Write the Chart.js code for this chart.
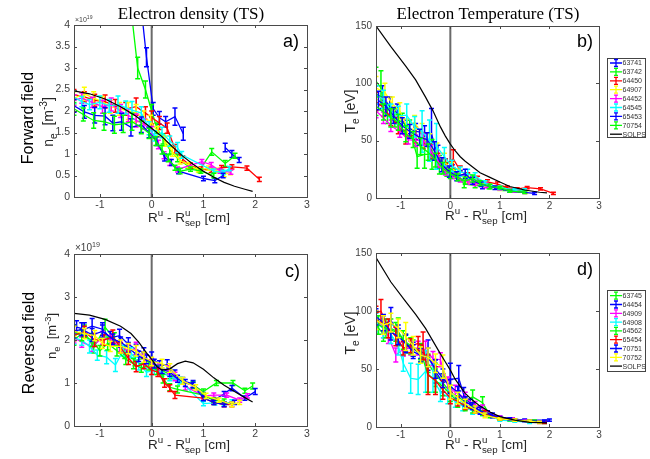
<!DOCTYPE html>
<html lang="en">
<head>
<meta charset="UTF-8">
<title>Electron density / temperature (TS)</title>
<script src="https://cdn.jsdelivr.net/npm/chart.js"></script>
<style>
  body { margin: 0; background: #fff; }
  #fig { position: relative; width: 650px; height: 459px; }
  #fig canvas { position: absolute; left: 0; top: 0; }
</style>
</head>
<body>
<div id="fig">
  <canvas id="painelA" width="650" height="459"></canvas>
  <canvas id="painelB" width="650" height="459"></canvas>
  <canvas id="painelC" width="650" height="459"></canvas>
  <canvas id="painelD" width="650" height="459"></canvas>
</div>

<script>
// ---- ticks ----
const xTicks = [-1, 0, 1, 2, 3];
const neTicksA = [0, 0.5, 1, 1.5, 2, 2.5, 3, 3.5, 4];
const neTicksC = [0, 1, 2, 3, 4];
const teTicks = [0, 50, 100, 150];

// ---- shots ----
const shotsForward = ['63741', '63742', '64450', '64907', '64452', '64545', '65453', '70754'];
const shotsReversed = ['63745', '64454', '64909', '64908', '64562', '65454', '70751', '70752'];
const coresForward = ['#0000ff', '#00ff00', '#ff0000', '#ffff00', '#ff00ff', '#00ffff', '#0000ff', '#00ff00'];
const coresReversed = ['#00ff00', '#0000ff', '#ff00ff', '#00ffff', '#00ff00', '#ff0000', '#0000ff', '#ffff00'];

// ---- a) n_e forward field  [x (cm), n_e (1e19 m^-3), erro] ----
const a63741 = [[-0.22,4.6,0.3],[-0.1,3.25,0.22],[0.03,2.05,0.15],[0.15,1.84,0.15],[0.27,1.75,0.12],[0.45,1.87,0.2],[0.61,1.47,0.15],[1.0,null,0],[1.42,1.15,0.1],[1.55,1.0,0.08],[1.69,0.86,0.06]];
const a63742 = [[-0.42,4.6,0.3],[-0.27,3.0,0.25],[-0.12,2.5,0.2],[0.0,2.0,0.15],[0.1,1.6,0.12],[0.22,1.35,0.12],[0.35,1.1,0.1],[0.5,0.9,0.08],[0.7,0.72,0.06],[0.92,0.62,0.05],[1.16,1.05,0.08],[1.42,0.78,0.07],[1.61,0.96,0.06]];
const a64450 = [[-1.5,2.38,0.12],[-1.3,2.33,0.12],[-1.1,2.25,0.14],[-0.9,2.22,0.15],[-0.7,2.12,0.15],[-0.5,2.05,0.15],[-0.3,2.1,0.2],[-0.12,1.95,0.15],[0.0,1.85,0.15],[0.15,1.72,0.15],[0.3,1.6,0.12],[0.45,1.12,0.1],[0.6,0.88,0.08],[0.75,0.73,0.06],[0.95,0.65,0.05],[1.15,0.62,0.05],[1.35,0.68,0.05],[1.55,0.7,0.05],[1.84,0.67,0.05],[2.08,0.41,0.05]];
const a64907 = [[-1.5,2.3,0.15],[-1.3,2.4,0.15],[-1.12,2.3,0.15],[-0.95,2.22,0.12],[-0.8,2.1,0.15],[-0.62,2.05,0.15],[-0.45,2.0,0.2],[-0.3,1.95,0.2],[-0.15,1.85,0.15],[-0.02,1.75,0.15],[0.12,1.52,0.12],[0.26,1.3,0.12],[0.4,1.05,0.1],[0.55,0.85,0.08],[0.72,0.74,0.06],[0.9,0.63,0.05],[1.1,0.67,0.05],[1.25,0.62,0.05],[1.4,0.52,0.05],[1.52,0.57,0.05]];
const a64452 = [[-1.5,2.25,0.12],[-1.35,2.3,0.12],[-1.15,2.2,0.12],[-0.95,2.1,0.15],[-0.78,2.15,0.15],[-0.6,2.0,0.15],[-0.45,1.9,0.15],[-0.3,1.78,0.15],[-0.15,1.7,0.12],[0.0,1.52,0.12],[0.13,1.22,0.1],[0.24,0.97,0.08],[0.35,0.8,0.07],[0.5,0.64,0.06],[0.97,0.82,0.05],[1.15,0.75,0.05],[1.32,0.6,0.05],[1.53,0.58,0.05]];
const a64545 = [[-1.5,2.32,0.15],[-1.35,2.22,0.12],[-1.2,2.15,0.12],[-1.0,2.2,0.15],[-0.82,2.12,0.15],[-0.65,2.15,0.2],[-0.5,2.08,0.15],[-0.38,2.02,0.2],[-0.2,1.95,0.15],[-0.05,1.6,0.15],[0.06,1.42,0.12],[0.2,1.5,0.12],[0.35,1.3,0.12],[0.5,1.15,0.12],[0.58,0.98,0.08],[1.2,0.6,0.05],[1.38,0.57,0.05],[1.5,0.66,0.05]];
const a65453 = [[-1.5,2.12,0.15],[-1.3,1.98,0.15],[-1.1,1.9,0.18],[-0.9,1.88,0.2],[-0.75,1.72,0.18],[-0.58,1.75,0.2],[-0.4,1.62,0.2],[-0.2,1.68,0.18],[-0.05,1.5,0.12],[0.1,1.3,0.1],[0.25,0.92,0.08],[0.38,0.8,0.07],[0.52,0.6,0.06],[1.0,0.43,0.05],[1.22,0.38,0.05],[1.38,0.5,0.05]];
const a70754 = [[-1.5,2.05,0.15],[-1.32,1.92,0.15],[-1.12,1.78,0.18],[-0.92,1.75,0.2],[-0.72,1.68,0.2],[-0.55,1.7,0.2],[-0.38,1.75,0.2],[-0.2,1.62,0.15],[-0.05,1.48,0.12],[0.08,1.3,0.1],[0.2,1.1,0.1],[0.32,0.9,0.08],[0.45,0.68,0.06],[0.55,0.6,0.06],[0.75,0.65,0.05],[0.95,0.6,0.05],[1.2,0.5,0.05]];
const aSolps = [[-1.5,2.47],[-1.2,2.4],[-0.9,2.28],[-0.6,2.1],[-0.3,1.88],[0,1.6],[0.2,1.4],[0.4,1.17],[0.6,0.95],[0.8,0.76],[1.0,0.6],[1.2,0.46],[1.4,0.34],[1.6,0.25],[1.8,0.18],[1.95,0.13]];

// ---- b) T_e forward field  [x (cm), T_e (eV), erro] ----
const b63741 = [[-1.5,90,8],[-1.37,88,10],[-1.22,80,8],[-1.07,74,8],[-0.88,62,6],[-0.7,58,7],[-0.52,57,6],[-0.38,56,22],[-0.25,36,10],[-0.1,28,6],[0.04,24,5],[0.2,20,4],[0.35,18,3],[0.5,15,3],[0.65,10,2]];
const b63742 = [[-1.5,102,12],[-1.4,96,15],[-1.27,73,8],[-1.12,70,8],[-0.97,66,8],[-0.82,60,8],[-0.67,36,10],[-0.52,38,12],[-0.37,38,13],[-0.22,29,8],[-0.07,25,6],[0.1,21,4],[0.28,12,3],[0.5,11,2],[0.78,10,2],[1.1,8,1.5],[1.4,6,1]];
const b64450 = [[-1.5,84,8],[-1.35,79,8],[-1.2,70,7],[-1.05,63,7],[-0.9,53,6],[-0.7,55,7],[-0.55,50,7],[-0.4,41,6],[-0.25,33,6],[-0.1,29,5],[0.06,34,8],[0.2,24,4],[0.35,19,3],[0.55,16,3],[0.75,14,2],[0.95,12,2],[1.15,9,1.5],[1.35,8,1],[1.55,9,1],[1.82,8,1],[2.08,4,1]];
const b64907 = [[-1.5,96,10],[-1.32,92,8],[-1.17,82,6],[-1.02,76,7],[-0.87,62,7],[-0.72,66,6],[-0.57,55,10],[-0.42,46,10],[-0.27,38,10],[-0.12,31,8],[0.03,26,5],[0.18,21,4],[0.35,16,3],[0.5,15,3],[0.7,12,2],[1.0,8,1.5],[1.3,6,1],[1.52,5,1]];
const b64452 = [[-1.5,76,6],[-1.35,70,5],[-1.2,63,5],[-1.02,58,5],[-0.85,51,4],[-0.7,50,5],[-0.55,51,5],[-0.4,41,5],[-0.25,32,5],[-0.1,24,4],[0.05,20,3],[0.2,17,3],[0.35,14,2],[0.5,13,2],[0.72,11,2],[1.0,8,1],[1.3,6,1],[1.5,5,1]];
const b64545 = [[-1.5,90,8],[-1.35,86,8],[-1.2,76,6],[-1.05,72,8],[-0.88,72,10],[-0.72,62,9],[-0.57,58,18],[-0.42,50,18],[-0.28,45,20],[-0.12,36,8],[0.03,28,5],[0.2,23,4],[0.35,21,4],[0.5,19,3],[0.7,13,2],[1.0,9,1.5],[1.3,7,1],[1.5,7,1]];
const b65453 = [[-1.45,85,8],[-1.3,80,8],[-1.15,72,7],[-0.97,63,7],[-0.82,58,6],[-0.62,53,7],[-0.47,51,6],[-0.32,41,8],[-0.17,29,6],[-0.02,23,5],[0.13,19,4],[0.3,21,4],[0.45,15,3],[0.62,12,2],[0.9,9,1.5],[1.2,6,1],[1.7,4,1]];
const b70754 = [[-1.5,80,8],[-1.35,75,7],[-1.2,70,8],[-1.05,66,7],[-0.9,56,7],[-0.75,51,7],[-0.6,45,7],[-0.45,40,7],[-0.3,33,6],[-0.15,26,5],[0.0,21,4],[0.15,18,3],[0.3,15,3],[0.45,17,3],[0.6,13,2],[0.8,10,2],[1.0,9,1],[1.2,6,1],[1.5,5,1]];
const bSolps = [[-1.5,150],[-1.2,132],[-0.9,115],[-0.7,103],[-0.5,88],[-0.35,76],[-0.2,62],[-0.1,54],[0,47],[0.1,41],[0.2,36],[0.3,32],[0.45,27],[0.6,22],[0.8,18],[1.0,14],[1.2,10],[1.5,7],[1.8,5],[1.95,4.5]];

// ---- c) n_e reversed field ----
const c63745 = [[-1.5,2.0,0.12],[-1.3,2.2,0.15],[-1.12,1.82,0.12],[-0.9,2.3,0.18],[-0.72,2.02,0.15],[-0.52,1.72,0.15],[-0.32,1.52,0.12],[-0.15,1.58,0.12],[0.0,1.42,0.1],[0.15,1.32,0.1],[0.35,1.2,0.1],[0.55,1.05,0.08],[0.8,0.95,0.08],[1.0,0.8,0.06],[1.25,1.0,0.06],[1.57,1.0,0.06],[1.8,0.82,0.06],[1.95,0.93,0.07]];
const c64454 = [[-1.45,2.3,0.15],[-1.3,2.25,0.15],[-1.15,2.32,0.18],[-0.95,2.25,0.15],[-0.8,2.05,0.15],[-0.62,2.1,0.15],[-0.45,1.9,0.15],[-0.3,1.78,0.12],[-0.15,1.7,0.12],[0,1.6,0.12],[0.15,1.42,0.1],[0.3,1.42,0.12],[0.45,1.2,0.1],[0.6,1.05,0.08],[0.8,0.98,0.08],[1.0,0.72,0.06],[1.2,0.6,0.05],[1.4,0.75,0.05],[1.55,0.88,0.06],[1.8,0.65,0.05],[2.0,0.8,0.07]];
const c64909 = [[-1.5,2.05,0.12],[-1.35,1.95,0.12],[-1.15,1.85,0.12],[-0.95,2.05,0.15],[-0.78,2.0,0.12],[-0.62,1.85,0.12],[-0.45,1.75,0.15],[-0.3,1.8,0.15],[-0.15,1.55,0.12],[0,1.45,0.1],[0.15,1.35,0.1],[0.32,1.3,0.1],[0.45,1.15,0.1],[0.65,0.92,0.08],[1.0,0.7,0.06],[1.2,0.72,0.05],[1.45,0.72,0.05],[1.7,0.6,0.05],[1.85,0.7,0.05]];
const c64908 = [[-1.5,2.05,0.15],[-1.35,2.0,0.12],[-1.2,1.85,0.15],[-1.05,1.65,0.12],[-0.87,1.6,0.15],[-0.7,1.42,0.15],[-0.55,1.75,0.12],[-0.4,1.7,0.12],[-0.25,1.45,0.15],[-0.1,1.25,0.1],[0.05,1.3,0.1],[0.2,1.25,0.1],[0.35,1.15,0.1],[0.55,1.05,0.08],[1.0,0.52,0.05],[1.22,0.54,0.05],[1.4,0.52,0.05],[1.55,0.56,0.05]];
const c64562 = [[-1.5,2.2,0.15],[-1.35,2.1,0.12],[-1.15,2.0,0.15],[-1.0,1.75,0.12],[-0.85,1.92,0.15],[-0.67,1.75,0.12],[-0.5,1.55,0.12],[-0.35,1.45,0.12],[-0.2,1.35,0.1],[-0.05,1.4,0.1],[0.1,1.3,0.1],[0.22,1.1,0.1],[0.35,0.9,0.08],[0.5,0.85,0.08],[1.0,0.72,0.05],[1.2,0.6,0.05],[1.4,0.58,0.05]];
const c65454 = [[-1.5,2.1,0.12],[-1.3,2.2,0.12],[-1.1,2.0,0.15],[-0.92,2.0,0.12],[-0.75,2.08,0.15],[-0.6,1.82,0.12],[-0.45,1.58,0.15],[-0.3,1.38,0.12],[-0.15,1.45,0.12],[0,1.3,0.1],[0.12,1.25,0.1],[0.25,1.0,0.1],[0.35,0.88,0.08],[0.45,0.72,0.08],[1.0,0.65,0.05],[1.2,0.55,0.05],[1.4,0.5,0.05],[1.55,0.5,0.05]];
const c70751 = [[-1.5,2.2,0.15],[-1.35,2.25,0.15],[-1.15,2.12,0.15],[-0.95,2.2,0.15],[-0.75,2.02,0.12],[-0.6,1.95,0.12],[-0.45,1.82,0.12],[-0.25,1.62,0.12],[-0.1,1.55,0.1],[0.05,1.45,0.1],[0.2,1.32,0.1],[0.35,1.25,0.1],[0.5,1.1,0.08],[0.65,1.0,0.08],[0.8,0.95,0.06],[1.0,0.65,0.06],[1.2,0.55,0.05],[1.4,0.5,0.05],[1.6,0.55,0.05]];
const c70752 = [[-1.5,2.2,0.12],[-1.3,2.15,0.12],[-1.1,2.1,0.12],[-0.95,1.92,0.12],[-0.8,1.85,0.12],[-0.6,1.85,0.15],[-0.45,1.8,0.12],[-0.3,1.75,0.12],[-0.15,1.6,0.12],[0,1.5,0.1],[0.2,1.45,0.1],[0.35,1.35,0.1],[0.6,1.05,0.08],[0.85,0.9,0.06],[1.05,0.7,0.06],[1.3,0.6,0.05],[1.55,0.5,0.05],[1.7,0.55,0.05]];
const cSolps = [[-1.5,2.62],[-1.2,2.58],[-0.9,2.48],[-0.6,2.32],[-0.4,2.15],[-0.25,1.95],[-0.1,1.7],[0,1.55],[0.1,1.38],[0.2,1.3],[0.35,1.33],[0.5,1.45],[0.65,1.51],[0.8,1.47],[1.0,1.32],[1.2,1.12],[1.4,0.95],[1.6,0.8],[1.8,0.66],[1.95,0.56]];

// ---- d) T_e reversed field ----
const d63745 = [[-1.5,88,8],[-1.35,80,6],[-1.2,85,8],[-1.05,82,12],[-0.9,72,8],[-0.75,68,7],[-0.6,62,6],[-0.45,55,8],[-0.3,45,10],[-0.15,38,8],[0,30,6],[0.15,26,5],[0.3,22,4],[0.45,26,6],[0.65,21,5],[0.8,10,2],[1.2,6,1],[1.5,5,1],[1.9,4,1]];
const d64454 = [[-1.5,92,8],[-1.35,88,8],[-1.2,92,11],[-1.05,80,8],[-0.9,72,8],[-0.75,67,6],[-0.6,65,6],[-0.45,62,13],[-0.3,48,10],[-0.15,38,8],[0,41,14],[0.17,42,11],[0.27,28,6],[0.4,20,4],[0.55,15,3],[0.75,12,2],[1.0,8,1.5],[1.25,7,1],[1.5,6,1],[2.0,6,1]];
const d64909 = [[-1.5,92,8],[-1.35,85,8],[-1.25,78,6],[-1.1,62,6],[-0.95,67,6],[-0.8,68,6],[-0.65,68,6],[-0.5,66,8],[-0.35,59,6],[-0.2,58,6],[-0.05,35,8],[0.1,30,6],[0.3,25,5],[0.5,19,3],[0.65,16,3],[1.0,8,1.5],[1.25,7,1],[1.5,5,1],[1.8,4,1]];
const d64908 = [[-1.5,90,8],[-1.35,85,8],[-1.2,80,8],[-1.05,70,8],[-0.95,55,7],[-0.8,42,13],[-0.65,41,13],[-0.5,48,18],[-0.35,42,12],[-0.2,30,8],[-0.05,26,6],[0.1,22,5],[0.25,18,4],[0.45,14,3],[0.65,12,2],[1.0,6,1],[1.3,5,1],[1.6,4,1]];
const d64562 = [[-1.45,88,8],[-1.3,85,8],[-1.1,82,8],[-0.95,75,8],[-0.8,70,7],[-0.6,65,7],[-0.45,45,15],[-0.3,40,10],[-0.15,35,8],[0,28,6],[0.15,22,5],[0.3,18,4],[0.45,15,3],[0.65,12,2],[1.0,7,1],[1.3,6,1],[1.7,5,1]];
const d65454 = [[-1.5,98,6],[-1.4,100,10],[-1.25,85,8],[-1.1,78,8],[-0.95,68,6],[-0.8,70,6],[-0.65,72,6],[-0.55,70,12],[-0.45,45,17],[-0.3,40,12],[-0.15,32,8],[0,25,5],[0.15,22,4],[0.3,18,3],[0.5,14,2],[0.7,12,2],[1.0,7,1],[1.3,6,1],[1.6,5,1],[1.9,4,1]];
const d70751 = [[-1.5,95,7],[-1.35,90,7],[-1.2,82,7],[-1.05,78,7],[-0.9,72,7],[-0.75,65,6],[-0.6,62,6],[-0.45,60,8],[-0.3,50,8],[-0.15,42,8],[0,35,6],[0.15,30,5],[0.3,22,4],[0.45,18,3],[0.6,14,3],[0.85,10,2],[1.2,7,1],[1.6,5,1],[1.9,5,1]];
const d70752 = [[-1.5,92,8],[-1.35,88,8],[-1.2,90,8],[-1.05,85,8],[-0.9,78,12],[-0.75,70,8],[-0.6,62,7],[-0.45,60,8],[-0.3,55,8],[-0.15,52,10],[0,30,6],[0.15,25,5],[0.3,20,4],[0.5,15,3],[0.7,10,2],[1.0,7,1],[1.3,6,1],[1.6,5,1],[1.8,4,1]];
const dSolps = [[-1.5,146],[-1.2,125],[-0.9,108],[-0.7,97],[-0.5,85],[-0.35,74],[-0.2,63],[-0.1,56],[0,49],[0.1,41],[0.2,35],[0.3,29],[0.45,23],[0.6,18],[0.8,13],[1.0,9],[1.3,6],[1.6,4],[1.95,3.5]];

const SANS = '"Liberation Sans", Arial, Helvetica, sans-serif';
const SERIF = '"Liberation Serif", "Times New Roman", serif';

// texto com sub/sobrescrito: partes [texto, tipo] tipo 0 normal, 1 sup, -1 sub, 2 sup sem avancar
function textoRico(ctx, t) {
  const fam = t.serif ? SERIF : SANS;
  const tam = k => (k === 0 ? t.size : t.size * 0.72);
  const desl = k => (k === 0 ? 0 : (k < 0 ? t.size * 0.32 : -t.size * 0.42));
  let w = 0, guardado = 0;
  const pos = [];
  t.parts.forEach(([s, k]) => {
    ctx.font = tam(k) + 'px ' + fam;
    const pw = ctx.measureText(s).width;
    pos.push(w);
    if (k === 2) { guardado = pw; } else { w += Math.max(pw, guardado); guardado = 0; }
  });
  ctx.save();
  ctx.translate(t.x, t.y);
  if (t.rot) ctx.rotate(-Math.PI / 2);
  ctx.fillStyle = t.color || '#262626';
  ctx.textAlign = 'left';
  ctx.textBaseline = 'alphabetic';
  const x0 = t.align === 'left' ? 0 : -w / 2;
  t.parts.forEach(([s, k], i) => {
    ctx.font = tam(k) + 'px ' + fam;
    ctx.fillText(s, x0 + pos[i], desl(k));
  });
  ctx.restore();
}

// barras de erro desenhadas com as escalas do grafico
const barrasErro = {
  id: 'barrasErro',
  afterDatasetDraw(chart, args) {
    const ds = chart.data.datasets[args.index];
    if (!ds.err) return;
    const { ctx, chartArea: a, scales: { x, y } } = chart;
    ctx.save();
    ctx.beginPath();
    ctx.rect(a.left, a.top, a.width, a.height);
    ctx.clip();
    ctx.strokeStyle = ds.borderColor;
    ctx.lineWidth = 1.5;
    ds.data.forEach((p, i) => {
      if (p.y === null) return;
      const px = x.getPixelForValue(p.x);
      const y0 = y.getPixelForValue(p.y - ds.err[i]);
      const y1 = y.getPixelForValue(p.y + ds.err[i]);
      ctx.beginPath();
      ctx.moveTo(px, y0); ctx.lineTo(px, y1);
      ctx.moveTo(px - 2.5, y0); ctx.lineTo(px + 2.5, y0);
      ctx.moveTo(px - 2.5, y1); ctx.lineTo(px + 2.5, y1);
      ctx.stroke();
    });
    ctx.restore();
  }
};

function desenharLegenda(chart, L) {
  const ctx = chart.ctx;
  const itens = chart.data.datasets.filter(d => !d.semLegenda);
  ctx.fillStyle = '#fff';
  ctx.fillRect(L.x, L.y, L.w, L.h);
  ctx.strokeStyle = '#444';
  ctx.lineWidth = 1;
  ctx.strokeRect(L.x + 0.5, L.y + 0.5, L.w, L.h);
  ctx.font = '7px ' + SANS;
  ctx.textBaseline = 'middle';
  ctx.textAlign = 'left';
  itens.forEach((d, i) => {
    const cy = L.y + L.y0 + i * L.passo;
    ctx.strokeStyle = d.borderColor;
    ctx.lineWidth = 1.3;
    ctx.beginPath();
    ctx.moveTo(L.x + 3, cy); ctx.lineTo(L.x + 15, cy);
    if (d.err) {
      const mx = L.x + 9;
      ctx.moveTo(mx, cy - 3.5); ctx.lineTo(mx, cy + 3.5);
      ctx.moveTo(mx - 2, cy - 3.5); ctx.lineTo(mx + 2, cy - 3.5);
      ctx.moveTo(mx - 2, cy + 3.5); ctx.lineTo(mx + 2, cy + 3.5);
    }
    ctx.stroke();
    ctx.fillStyle = '#333';
    ctx.fillText(d.label, L.x + 15.5, cy + 0.5);
  });
}

// moldura (caixa com ticks internos), textos e legenda
function criarMoldura(p) {
  return {
    id: 'moldura',
    afterDraw(chart) {
      const { ctx, chartArea: a, scales } = chart;
      ctx.save();
      ctx.strokeStyle = '#4a4a4a';
      ctx.lineWidth = 1;
      ctx.strokeRect(Math.round(a.left) + 0.5, Math.round(a.top) + 0.5, Math.round(a.width), Math.round(a.height));
      ctx.beginPath();
      scales.x.ticks.forEach(t => {
        const px = Math.round(scales.x.getPixelForValue(t.value)) + 0.5;
        ctx.moveTo(px, a.bottom); ctx.lineTo(px, a.bottom - 3);
        ctx.moveTo(px, a.top); ctx.lineTo(px, a.top + 3);
      });
      scales.y.ticks.forEach(t => {
        const py = Math.round(scales.y.getPixelForValue(t.value)) + 0.5;
        ctx.moveTo(a.left, py); ctx.lineTo(a.left + 3, py);
        ctx.moveTo(a.right, py); ctx.lineTo(a.right - 3, py);
      });
      ctx.stroke();
      p.textos.forEach(t => textoRico(ctx, t));
      if (p.legenda) desenharLegenda(chart, p.legenda);
      ctx.restore();
    }
  };
}

function plotarPainel(id, p) {
  const datasets = [];
  p.series.forEach((s, i) => {
    datasets.push({
      label: p.shots[i],
      data: s.map(v => ({ x: v[0], y: v[1] })),
      err: s.map(v => v[2]),
      borderColor: p.cores[i],
      backgroundColor: p.cores[i],
      borderWidth: 1.3,
      pointRadius: 0,
      order: 20 - i
    });
  });
  datasets.push({
    label: 'SOLPS',
    data: p.solps.map(v => ({ x: v[0], y: v[1] })),
    borderColor: '#000',
    borderWidth: 1.2,
    pointRadius: 0,
    order: 0
  });
  datasets.push({
    label: 'sep',
    data: [{ x: 0, y: 0 }, { x: 0, y: p.yMax }],
    borderColor: '#6a6a6a',
    borderWidth: 2,
    pointRadius: 0,
    semLegenda: true,
    order: 50
  });

  const fonteTick = { family: SANS, size: p.tickSize };
  new Chart(document.getElementById(id), {
    type: 'line',
    data: { datasets },
    options: {
      responsive: false,
      animation: false,
      devicePixelRatio: 1,
      layout: {
        padding: { left: p.area.l - 30, top: p.area.t, right: 650 - p.area.r, bottom: 459 - p.area.b - 20 }
      },
      plugins: { legend: { display: false }, tooltip: { enabled: false } },
      elements: { line: { tension: 0 } },
      scales: {
        x: {
          type: 'linear', min: -1.5, max: 3,
          grid: { display: false, drawTicks: false },
          border: { display: false },
          afterBuildTicks: s => { s.ticks = xTicks.map(v => ({ value: v })); },
          afterFit: s => { s.height = 20; },
          ticks: { color: '#404040', font: fonteTick, padding: 2, maxRotation: 0, callback: v => String(v) }
        },
        y: {
          type: 'linear', min: 0, max: p.yMax,
          grid: { display: false, drawTicks: false },
          border: { display: false },
          afterBuildTicks: s => { s.ticks = p.yTicks.map(v => ({ value: v })); },
          afterFit: s => { s.width = 30; },
          ticks: { color: '#404040', font: fonteTick, padding: 4, callback: v => String(v) }
        }
      }
    },
    plugins: [barrasErro, criarMoldura(p)]
  });
}

const tituloX = [['R', 0], ['u', 1], [' - R', 0], ['u', 2], ['sep', -1], [' [cm]', 0]];
const tituloNe = [['n', 0], ['e', -1], ['  [m', 0], ['-3', 1], [']', 0]];
const tituloTe = [['T', 0], ['e', -1], [' [eV]', 0]];

plotarPainel('painelA', {
  series: [a63741, a63742, a64450, a64907, a64452, a64545, a65453, a70754],
  shots: shotsForward, cores: coresForward, solps: aSolps,
  yMax: 4, yTicks: neTicksA, tickSize: 10.5,
  area: { l: 74, t: 25, r: 307, b: 197 },
  legenda: null,
  textos: [
    { parts: [['Electron density (TS)', 0]], x: 191, y: 19, size: 17, serif: true, color: '#000' },
    { parts: [['Forward field', 0]], x: 33, y: 118, size: 16, rot: true, color: '#000' },
    { parts: tituloNe, x: 53, y: 122, size: 14, rot: true },
    { parts: tituloX, x: 189, y: 222, size: 13.5 },
    { parts: [['×10', 0], ['19', 1]], x: 75, y: 22, size: 7, align: 'left', color: '#404040' },
    { parts: [['a)', 0]], x: 283, y: 47, size: 18, align: 'left', color: '#000' }
  ]
});

plotarPainel('painelB', {
  series: [b63741, b63742, b64450, b64907, b64452, b64545, b65453, b70754],
  shots: shotsForward, cores: coresForward, solps: bSolps,
  yMax: 150, yTicks: teTicks, tickSize: 10,
  area: { l: 376, t: 26, r: 599, b: 198 },
  legenda: { x: 607, y: 58, w: 38, h: 79, y0: 5, passo: 8.9 },
  textos: [
    { parts: [['Electron Temperature (TS)', 0]], x: 488, y: 19, size: 17, serif: true, color: '#000' },
    { parts: tituloTe, x: 355, y: 111, size: 14, rot: true },
    { parts: tituloX, x: 486, y: 220, size: 13.5 },
    { parts: [['b)', 0]], x: 577, y: 47, size: 18, align: 'left', color: '#000' }
  ]
});

plotarPainel('painelC', {
  series: [c63745, c64454, c64909, c64908, c64562, c65454, c70751, c70752],
  shots: shotsReversed, cores: coresReversed, solps: cSolps,
  yMax: 4, yTicks: neTicksC, tickSize: 10.5,
  area: { l: 74, t: 254, r: 307, b: 426 },
  legenda: null,
  textos: [
    { parts: [['Reversed field', 0]], x: 34, y: 343, size: 16, rot: true, color: '#000' },
    { parts: tituloNe, x: 56, y: 336, size: 13, rot: true },
    { parts: tituloX, x: 189, y: 449, size: 13.5 },
    { parts: [['×10', 0], ['19', 1]], x: 75, y: 251, size: 10, align: 'left', color: '#404040' },
    { parts: [['c)', 0]], x: 285, y: 277, size: 18, align: 'left', color: '#000' }
  ]
});

plotarPainel('painelD', {
  series: [d63745, d64454, d64909, d64908, d64562, d65454, d70751, d70752],
  shots: shotsReversed, cores: coresReversed, solps: dSolps,
  yMax: 150, yTicks: teTicks, tickSize: 10,
  area: { l: 376, t: 253, r: 599, b: 427 },
  legenda: { x: 607, y: 290, w: 38, h: 81, y0: 5.7, passo: 8.8 },
  textos: [
    { parts: tituloTe, x: 355, y: 333, size: 14, rot: true },
    { parts: tituloX, x: 486, y: 449, size: 13.5 },
    { parts: [['d)', 0]], x: 577, y: 275, size: 18, align: 'left', color: '#000' }
  ]
});
</script>
</body>
</html>
